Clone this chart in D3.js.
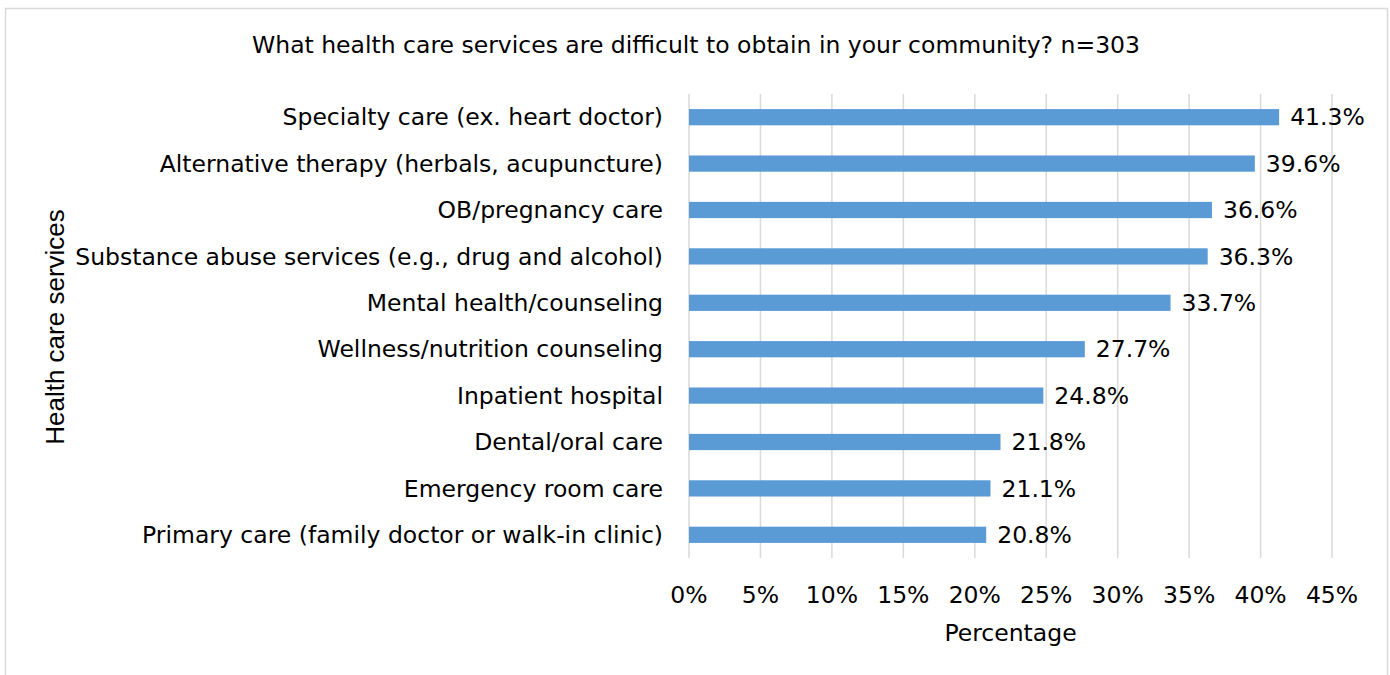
<!DOCTYPE html>
<html>
<head>
<meta charset="utf-8">
<script src="https://cdn.jsdelivr.net/npm/d3@7"></script>
<style>
  body { margin: 0; background: #fff; }
  svg { display: block; }
  text { font-family: "DejaVu Sans", sans-serif; fill: #000; }
  text.ytitle { font-family: "Liberation Sans", Arial, sans-serif; }
</style>
</head>
<body>
<svg width="1390" height="675"></svg>
<script>
const categories = [
  'Specialty care (ex. heart doctor)',
  'Alternative therapy (herbals, acupuncture)',
  'OB/pregnancy care',
  'Substance abuse services (e.g., drug and alcohol)',
  'Mental health/counseling',
  'Wellness/nutrition counseling',
  'Inpatient hospital',
  'Dental/oral care',
  'Emergency room care',
  'Primary care (family doctor or walk-in clinic)'
];
const values = [41.3, 39.6, 36.6, 36.3, 33.7, 27.7, 24.8, 21.8, 21.1, 20.8];
const xTicks = [0, 5, 10, 15, 20, 25, 30, 35, 40, 45];

const titleText = 'What health care services are difficult to obtain in your community? n=303';
const xTitle = 'Percentage';
const yTitle = 'Health care services';

const fontSize = 23.5;

const svg = d3.select('svg');

// chart border
svg.append('rect')
  .attr('x', 5.5).attr('y', 8.5)
  .attr('width', 1382).attr('height', 700)
  .attr('fill', '#fff')
  .attr('stroke', '#d9d9d9')
  .attr('stroke-width', 1.5);

const plotLeft = 689, plotRight = 1332, plotTop = 94, plotBottom = 558;

const x = d3.scaleLinear()
  .domain([0, 45])
  .range([plotLeft, plotRight]);

const y = d3.scaleBand()
  .domain(categories)
  .range([plotTop, plotBottom])
  .paddingInner(0.65)
  .paddingOuter(0.325);

// gridlines
svg.append('g')
  .selectAll('line')
  .data(xTicks)
  .enter()
  .append('line')
  .attr('x1', d => x(d)).attr('x2', d => x(d))
  .attr('y1', plotTop).attr('y2', plotBottom)
  .attr('stroke', '#d9d9d9')
  .attr('stroke-width', 1.5);

// bars
svg.append('g')
  .selectAll('rect')
  .data(values)
  .enter()
  .append('rect')
  .attr('x', x(0))
  .attr('y', (d, i) => y(categories[i]))
  .attr('width', d => x(d) - x(0))
  .attr('height', y.bandwidth())
  .attr('fill', '#5b9bd5');

// value labels
svg.append('g')
  .selectAll('text')
  .data(values)
  .enter()
  .append('text')
  .attr('x', d => x(d) + 11)
  .attr('y', (d, i) => y(categories[i]) + y.bandwidth() / 2)
  .attr('dy', '0.35em')
  .attr('font-size', fontSize)
  .text(d => d.toFixed(1) + '%');

// category labels
svg.append('g')
  .selectAll('text')
  .data(categories)
  .enter()
  .append('text')
  .attr('x', 663)
  .attr('y', d => y(d) + y.bandwidth() / 2)
  .attr('dy', '0.35em')
  .attr('text-anchor', 'end')
  .attr('font-size', fontSize)
  .text(d => d);

// x tick labels
svg.append('g')
  .selectAll('text')
  .data(xTicks)
  .enter()
  .append('text')
  .attr('x', d => x(d))
  .attr('y', 595)
  .attr('dy', '0.35em')
  .attr('text-anchor', 'middle')
  .attr('font-size', fontSize)
  .text(d => d + '%');

svg.append('text')
  .attr('x', (plotLeft + plotRight) / 2)
  .attr('y', 633)
  .attr('dy', '0.35em')
  .attr('text-anchor', 'middle')
  .attr('font-size', fontSize)
  .text(xTitle);

svg.append('text')
  .attr('class', 'ytitle')
  .attr('transform', 'translate(55,327) rotate(-90)')
  .attr('dy', '0.35em')
  .attr('text-anchor', 'middle')
  .attr('font-size', 26)
  .text(yTitle);

svg.append('text')
  .attr('x', 696)
  .attr('y', 45)
  .attr('dy', '0.35em')
  .attr('text-anchor', 'middle')
  .attr('font-size', fontSize)
  .text(titleText);
</script>
</body>
</html>
